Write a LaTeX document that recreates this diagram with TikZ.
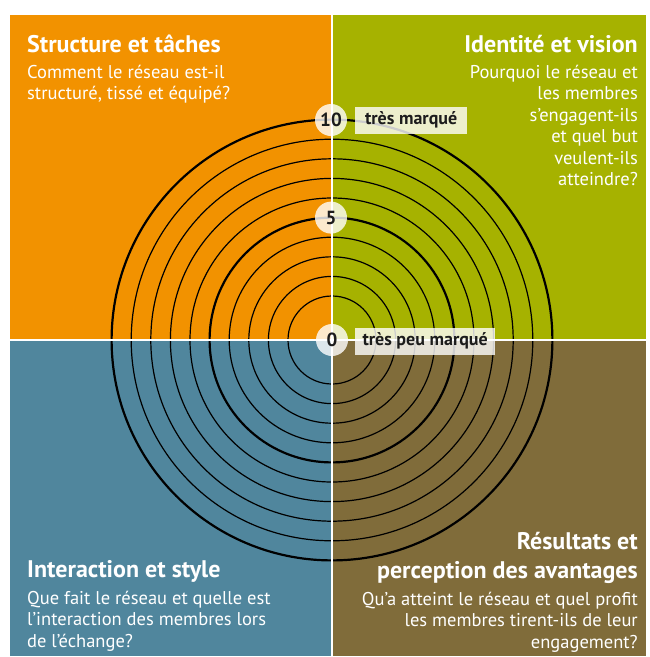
\documentclass[tikz,border=0pt]{standalone}
\usepackage{fontspec}
\setmainfont{PT Sans}
\definecolor{qorange}{RGB}{242,146,0}
\definecolor{qgreen}{RGB}{166,178,0}
\definecolor{qblue}{RGB}{80,134,157}
\definecolor{qbrown}{RGB}{128,108,58}
\definecolor{ink}{RGB}{28,28,28}
\tikzset{
  ring/.style={draw=black, line width=1.2pt},
  thickring/.style={draw=black, line width=2.2pt},
  divider/.style={draw=white, line width=2.4pt},
  ttl/.style={text=white, inner sep=0pt, font=\fontsize{24}{28.5}\selectfont\bfseries},
  bodytxt/.style={text=white, inner sep=0pt, font=\fontsize{18.5}{21.5}\selectfont},
  numdisc/.style={circle, fill=white, fill opacity=0.8, text opacity=1, text=ink,
    minimum size=32pt, inner sep=0pt, font=\fontsize{19}{19}\selectfont\bfseries},
  tagbox/.style={rectangle, fill=white, fill opacity=0.8, text opacity=1, text=ink,
    minimum height=27pt, inner sep=0pt, anchor=west, font=\fontsize{18}{18}\selectfont\bfseries}
}
\begin{document}
\begin{tikzpicture}[x=1pt,y=-1pt]
\useasboundingbox (0,0) rectangle (650,657);
% quadrants
\fill[qorange] (10,15) rectangle (332,340);
\fill[qgreen] (332,15) rectangle (646,340);
\fill[qblue] (10,340) rectangle (332,656);
\fill[qbrown] (332,340) rectangle (646,656);
% rings
\coordinate (c) at (332,340);
\foreach \k in {1,2,3,4,6,7,8,9}
  \path[ring] (c) circle[radius={44pt+(\k-1)*19.6pt}];
\path[thickring] (c) circle[radius=122.4pt];
\path[thickring] (c) circle[radius=220.4pt];
% dividers
\path[divider] (332,15) -- (332,656);
\path[divider] (10,340) -- (646,340);
% scale labels
\node[numdisc] (n10) at (331,120) {10};
\node[numdisc] (n5) at (331,217.6) {5};
\node[numdisc] (n0) at (332,340) {0};
\node[tagbox, minimum width=112pt] (t10) at (355,120) {très marqué};
\node[tagbox, minimum width=140pt] (t0) at (355,341) {très peu marqué};
% texts (base anchor of a multi-line node = last line)
\node[ttl, anchor=base west] (h1) at (27,52) {Structure et tâches};
\node[bodytxt, anchor=base west, align=left] (b1) at (27,99.5)
  {Comment le réseau est-il\\structuré, tissé et équipé?};
\node[ttl, anchor=base east] (h2) at (638,52) {Identité et vision};
\node[bodytxt, anchor=base east, align=right] (b2) at (638,185.5)
  {Pourquoi le réseau et\\les membres\\s’engagent-ils\\et quel but\\veulent-ils\\atteindre?};
\node[ttl, anchor=base west] (h3) at (27,577) {Interaction et style};
\node[bodytxt, anchor=base west, align=left] (b3) at (27,647)
  {Que fait le réseau et quelle est\\l’interaction des membres lors\\de l’échange?};
\node[ttl, anchor=base east, align=right] (h4) at (638,578)
  {Résultats et\\perception des avantages};
\node[bodytxt, anchor=base east, align=right] (b4) at (638,648)
  {Qu’a atteint le réseau et quel profit\\les membres tirent-ils de leur\\engagement?};
\end{tikzpicture}
\end{document}
